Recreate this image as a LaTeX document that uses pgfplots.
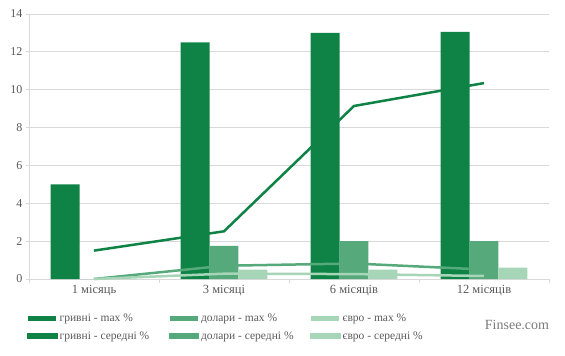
\documentclass[border=0pt]{standalone}
\usepackage{pgfplots}
\pgfplotsset{compat=1.18}
\usepackage{fontspec}
\setmainfont{Liberation Serif}
\definecolor{cA}{HTML}{0E8345}
\definecolor{cB}{HTML}{55A97B}
\definecolor{cC}{HTML}{A6D5B8}
\definecolor{txt}{HTML}{595959}
\definecolor{grd}{HTML}{D9D9D9}
\begin{document}
\begin{tikzpicture}
\useasboundingbox (-29pt,-77pt) rectangle (536pt,279pt);
\begin{axis}[
  at={(0,0)}, anchor=south west,
  scale only axis, width=520pt, height=265pt,
  xmin=-0.5, xmax=3.5, ymin=0, ymax=14,
  axis x line*=bottom, axis y line*=left,
  axis line style={-, grd, line width=0.8pt},
  xtick={0,1,2,3},
  xticklabels={1 місяць,3 місяці,6 місяців,12 місяців},
  minor xtick={-0.5,0.5,1.5,2.5,3.5},
  major x tick style={draw=none},
  minor x tick style={grd, line width=0.8pt},
  minor tick length=4pt,
  ytick={0,2,...,14},
  y tick style={grd, line width=0.8pt},
  major tick length=3pt,
  tick align=outside,
  ymajorgrids, grid style={grd, line width=0.8pt},
  /pgf/number format/assume math mode=true,
  xticklabel style={font=\fontsize{12.5}{14}\selectfont, text=txt},
  yticklabel style={font=\fontsize{12}{14}\selectfont, text=txt},
  clip=false,
  legend columns=3,
  legend style={at={(-0.004,-0.125)}, anchor=north west, draw=none, fill=none,
    font=\fontsize{11.5}{13}\selectfont, text=txt,
    /tikz/every even column/.append style={column sep=0pt},
    row sep=4pt, inner sep=0pt},
  legend cell align=left,
]
\addplot[ybar, bar width=0.223, bar shift=-0.223, fill=cA, draw=none,
  legend image code/.code={\fill[cA] (0pt,-2.5pt) rectangle (28pt,2.5pt);}]
  coordinates {(0,5.0) (1,12.5) (2,13.0) (3,13.05)};
\addlegendentry{\makebox[107pt][l]{гривні - max \%}}
\addplot[ybar, bar width=0.223, bar shift=0, fill=cB, draw=none,
  legend image code/.code={\fill[cB] (0pt,-2.5pt) rectangle (28pt,2.5pt);}]
  coordinates {(0,0) (1,1.75) (2,2.0) (3,2.0)};
\addlegendentry{\makebox[107pt][l]{долари - max \%}}
\addplot[ybar, bar width=0.223, bar shift=0.223, fill=cC, draw=none,
  legend image code/.code={\fill[cC] (0pt,-2.5pt) rectangle (28pt,2.5pt);}]
  coordinates {(0,0) (1,0.5) (2,0.5) (3,0.6)};
\addlegendentry{євро - max \%}
\addplot[cA, line width=2.5pt, sharp plot, mark=none,
  legend image code/.code={\fill[cA] (0pt,-1.5pt) rectangle (28pt,1.5pt);}]
  coordinates {(0,1.5) (1,2.52) (2,9.14) (3,10.35)};
\addlegendentry{гривні - середні \%}
\addplot[cB, line width=2.5pt, sharp plot, mark=none,
  legend image code/.code={\fill[cB] (0pt,-1.5pt) rectangle (28pt,1.5pt);}]
  coordinates {(0,0) (1,0.7) (2,0.82) (3,0.5)};
\addlegendentry{долари - середні \%}
\addplot[cC, line width=2.5pt, sharp plot, mark=none,
  legend image code/.code={\fill[cC] (0pt,-1.5pt) rectangle (28pt,1.5pt);}]
  coordinates {(0,0) (1,0.28) (2,0.26) (3,0.16)};
\addlegendentry{євро - середні \%}
\end{axis}
\node[text=txt!80, font=\fontsize{14}{16}\selectfont] at (488pt,-46pt) {Finsee.com};
\end{tikzpicture}
\end{document}
